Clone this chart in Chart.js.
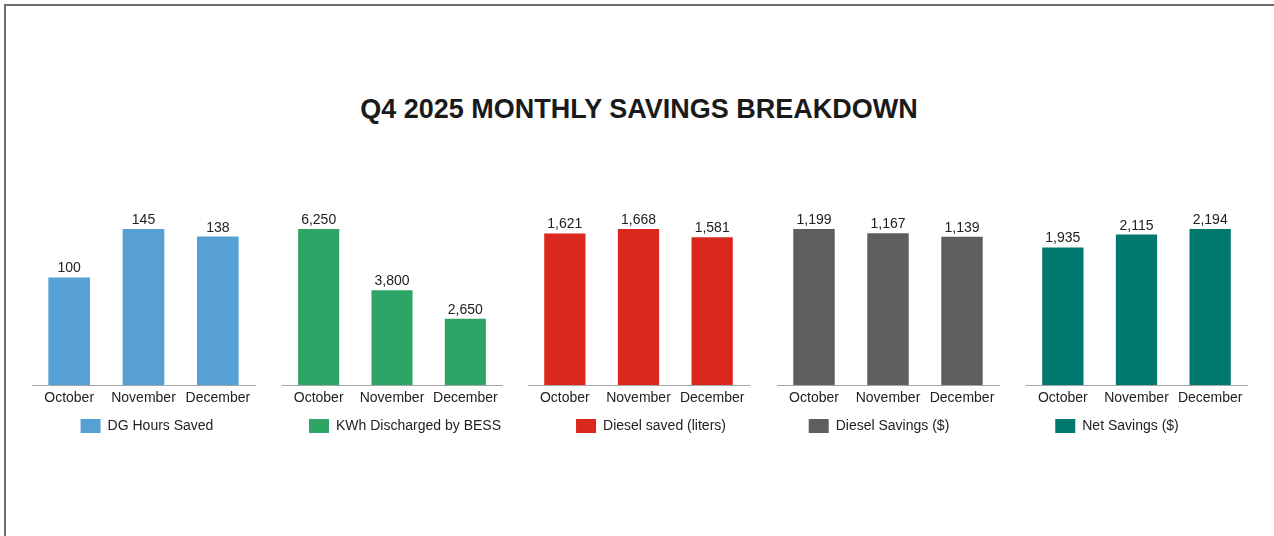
<!DOCTYPE html>
<html>
<head>
<meta charset="utf-8">
<script src="https://cdn.jsdelivr.net/npm/chart.js@4/dist/chart.umd.min.js"></script>
<style>
  html, body { margin: 0; padding: 0; background: #ffffff; overflow: hidden; }
  body { width: 1274px; height: 536px; position: relative; font-family: "Liberation Sans", Arial, sans-serif; }
  #frame { position: absolute; left: 4px; top: 4px; width: 1300px; height: 600px;
           border-left: 2px solid #6e6e6e; border-top: 2px solid #6e6e6e; box-sizing: border-box; }
  #title { position: absolute; left: 0; top: 95px; width: 1278px; text-align: center;
           font: bold 27px "Liberation Sans", Arial, sans-serif; line-height: 28px; color: #1a1a1a; }
  .panel { position: absolute; top: 180px; height: 263px; }
</style>
</head>
<body>
<div id="frame"></div>
<div id="title">Q4 2025 MONTHLY SAVINGS BREAKDOWN</div>

<script>
// ---- data ----
const months = ['October', 'November', 'December'];
const dgHoursSaved = [100, 145, 138];
const kwhDischargedByBess = [6250, 3800, 2650];
const dieselSavedLiters = [1621, 1668, 1581];
const dieselSavingsUsd = [1199, 1167, 1139];
const netSavingsUsd = [1935, 2115, 2194];
const seriesNames = ['DG Hours Saved', 'KWh Discharged by BESS', 'Diesel saved (liters)', 'Diesel Savings ($)', 'Net Savings ($)'];
const seriesValues = [dgHoursSaved, kwhDischargedByBess, dieselSavedLiters, dieselSavingsUsd, netSavingsUsd];
const seriesColors = ['#56a0d3', '#2ea566', '#da281e', '#5e5e5e', '#00786e'];

// ---- layout (axis left, axis right, legend centre) ----
const panelLayout = [
  { axisLeft: 32, axisRight: 255, legendCenter: 147 },
  { axisLeft: 282, axisRight: 502, legendCenter: 405 },
  { axisLeft: 528, axisRight: 749, legendCenter: 651 },
  { axisLeft: 777, axisRight: 999, legendCenter: 879 },
  { axisLeft: 1026, axisRight: 1247, legendCenter: 1117 }
];
const PANEL_W = 264;
const FONT = '"Liberation Sans", Arial, sans-serif';

const valueLabels = {
  id: 'valueLabels',
  afterDatasetsDraw(chart) {
    const ctx = chart.ctx;
    ctx.save();
    ctx.font = '14px ' + FONT;
    ctx.fillStyle = '#222222';
    ctx.textAlign = 'center';
    ctx.textBaseline = 'alphabetic';
    chart.data.datasets.forEach((ds, di) => {
      chart.getDatasetMeta(di).data.forEach((bar, i) => {
        ctx.fillText(ds.data[i].toLocaleString('en-US'), bar.x, bar.y - 5);
      });
    });
    ctx.restore();
  }
};

seriesValues.forEach((values, idx) => {
  const lay = panelLayout[idx];
  const left = lay.legendCenter - PANEL_W / 2;
  const wl = lay.axisLeft - left;
  const wr = left + PANEL_W - lay.axisRight;
  const div = document.createElement('div');
  div.className = 'panel';
  div.style.left = left + 'px';
  div.style.width = PANEL_W + 'px';
  const canvas = document.createElement('canvas');
  div.appendChild(canvas);
  document.body.appendChild(div);

  const hidden = { ticks: { display: false }, grid: { display: false, drawTicks: false }, border: { display: false } };

  new Chart(canvas, {
    type: 'bar',
    data: {
      labels: months,
      datasets: [{
        label: seriesNames[idx],
        data: values,
        backgroundColor: seriesColors[idx],
        borderWidth: 0,
        categoryPercentage: 1,
        barPercentage: 0.56
      }]
    },
    options: {
      responsive: true,
      maintainAspectRatio: false,
      animation: false,
      layout: { padding: { top: 25, left: 0, right: 0, bottom: 0 } },
      scales: {
        x: {
          grid: { display: false, drawTicks: false },
          border: { display: true, color: '#a6a6a6', width: 1 },
          ticks: { color: '#222222', font: { family: FONT, size: 14 }, padding: 5, maxRotation: 0, autoSkip: false },
          afterFit(s) { s.height = 24; }
        },
        y: Object.assign({ display: true, position: 'left', min: 0, max: Math.max(...values) * 180 / 156,
                           afterFit(s) { s.width = wl; } }, hidden),
        y2: Object.assign({ display: true, position: 'right', min: 0, max: 1,
                            afterFit(s) { s.width = wr; } }, hidden)
      },
      plugins: {
        legend: {
          display: true,
          position: 'bottom',
          labels: { boxWidth: 20, boxHeight: 14, padding: 10, color: '#222222', font: { family: FONT, size: 14 } }
        },
        tooltip: { enabled: false },
        title: { display: false }
      }
    },
    plugins: [valueLabels]
  });
});
</script>
</body>
</html>
